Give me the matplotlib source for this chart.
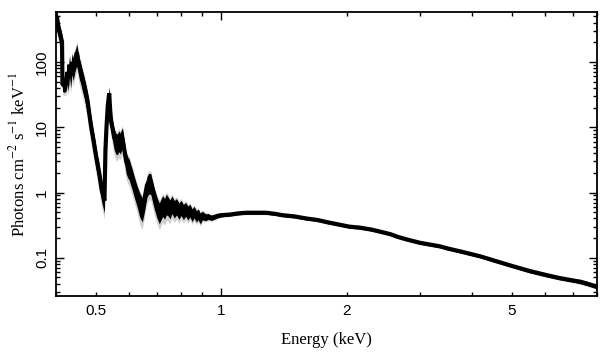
import matplotlib
matplotlib.use("Agg")

import numpy as np
import matplotlib.pyplot as plt
from matplotlib.ticker import LogLocator, FuncFormatter, NullFormatter

plt.rcParams["mathtext.fontset"] = "stix"

# unfolded spectrum (keV, photons cm^-2 s^-1 keV^-1)
energy = [
    0.400, 0.402, 0.404, 0.406, 0.408, 0.410, 0.412, 0.4135, 0.4145, 0.417,
    0.420, 0.423, 0.426, 0.428, 0.431, 0.434, 0.437, 0.440, 0.444, 0.447,
    0.449, 0.452, 0.455, 0.459, 0.463, 0.467, 0.471, 0.476, 0.481, 0.486,
    0.493, 0.500, 0.508, 0.515, 0.523, 0.526, 0.529, 0.533, 0.537, 0.540,
    0.543, 0.548, 0.552, 0.557, 0.562, 0.566, 0.571, 0.577, 0.583, 0.590,
    0.595, 0.600, 0.605, 0.610, 0.617, 0.627, 0.636, 0.645, 0.652, 0.658,
    0.662, 0.668, 0.676, 0.683, 0.690, 0.700, 0.709, 0.715, 0.722,
    0.730, 0.737, 0.745, 0.752, 0.760, 0.770, 0.780, 0.790, 0.800, 0.810,
    0.820, 0.830, 0.840, 0.850, 0.860, 0.870, 0.880, 0.890, 0.900, 0.915,
    0.930, 0.945, 0.960, 0.980, 1.000, 1.050, 1.100, 1.150, 1.200, 1.280,
    1.350, 1.400, 1.500, 1.600, 1.700, 1.800, 1.930, 2.030, 2.150, 2.300,
    2.450, 2.550, 2.650, 2.800, 3.000, 3.350, 3.500, 3.800, 4.200, 4.600,
    5.000, 5.500, 6.000, 6.500, 7.000, 7.300, 7.600, 8.000,
]
flux = [
    420, 500, 380, 330, 280, 250, 225, 205, 46, 44,
    46, 48, 70, 55, 91, 62, 100, 80, 108, 125,
    140, 105, 85, 70, 55, 45, 35, 26, 16, 10,
    6.0, 3.4, 2.0, 1.1, 0.75, 4.5, 10, 22, 33, 18,
    12, 9.0, 7.0, 6.0, 5.8, 6.5, 6.0, 7.2, 4.8, 3.0,
    2.6, 2.4, 2.0, 1.7, 1.3, 0.93, 0.70, 0.59, 0.75, 1.05,
    1.3, 1.45, 1.45, 1.1, 0.84, 0.62, 0.51, 0.58, 0.66,
    0.60, 0.70, 0.64, 0.58, 0.68, 0.58, 0.63, 0.54, 0.60, 0.52,
    0.57, 0.50, 0.54, 0.46, 0.51, 0.44, 0.47, 0.40, 0.45, 0.42,
    0.43, 0.41, 0.42, 0.44, 0.45, 0.46, 0.48, 0.49, 0.49, 0.49,
    0.47, 0.45, 0.43, 0.40, 0.38, 0.35, 0.32, 0.30, 0.29, 0.27,
    0.245, 0.23, 0.21, 0.19, 0.17, 0.150, 0.139, 0.123, 0.105, 0.088,
    0.075, 0.063, 0.055, 0.049, 0.045, 0.043, 0.040, 0.036,
]
# relative half-width of the error band
rel_err = [
    0.30, 0.30, 0.30, 0.30, 0.30, 0.30, 0.30, 0.30, 0.22, 0.22,
    0.25, 0.25, 0.35, 0.35, 0.35, 0.35, 0.35, 0.35, 0.35, 0.35,
    0.35, 0.35, 0.35, 0.35, 0.35, 0.35, 0.35, 0.35, 0.35, 0.35,
    0.35, 0.35, 0.35, 0.35, 0.35, 0.35, 0.30, 0.25, 0.25, 0.25,
    0.30, 0.35, 0.35, 0.35, 0.35, 0.35, 0.35, 0.35, 0.35, 0.35,
    0.35, 0.35, 0.35, 0.35, 0.35, 0.35, 0.40, 0.40, 0.35, 0.35,
    0.35, 0.35, 0.35, 0.35, 0.35, 0.35, 0.35, 0.35, 0.35,
    0.35, 0.35, 0.32, 0.32, 0.30, 0.30, 0.28, 0.28, 0.26, 0.26,
    0.24, 0.24, 0.22, 0.22, 0.20, 0.20, 0.18, 0.18, 0.15, 0.12,
    0.10, 0.09, 0.08, 0.07, 0.06, 0.05, 0.05, 0.05, 0.05, 0.05,
    0.05, 0.05, 0.05, 0.05, 0.05, 0.05, 0.05, 0.05, 0.05, 0.05,
    0.05, 0.05, 0.05, 0.05, 0.05, 0.05, 0.05, 0.05, 0.05, 0.05,
    0.05, 0.06, 0.06, 0.06, 0.06, 0.07, 0.07, 0.07,
]

x_labelled = [0.5, 1, 2, 5]

E = np.asarray(energy)
F = np.asarray(flux)
err = np.asarray(rel_err)

fig = plt.figure(figsize=(6.09, 3.57), dpi=100)
ax = fig.add_axes([0.092, 0.171, 0.888, 0.795])

# grey outer halo of the error bars, then black band and line
ax.fill_between(E, F * (1 - 1.35 * err), F * (1 + 1.35 * err), color="0.82", lw=0)
ax.fill_between(E, F * (1 - err), F * (1 + err), color="black", lw=0)
ax.plot(E, F, color="black", lw=3.0, solid_joinstyle="miter")

ax.set_xscale("log")
ax.set_yscale("log")
ax.set_xlim(0.4, 8.0)
ax.set_ylim(0.026, 580)

# PGPLOT-style ticks: inward on all four sides
ax.xaxis.set_major_locator(LogLocator(base=10, subs=(1.0,)))
ax.xaxis.set_minor_locator(LogLocator(base=10, subs=np.arange(2, 10) * 1.0, numticks=20))
ax.yaxis.set_major_locator(LogLocator(base=10, subs=(1.0,)))
ax.yaxis.set_minor_locator(LogLocator(base=10, subs=np.arange(2, 10) * 1.0, numticks=20))


def _xfmt(v, pos):
    for t in x_labelled:
        if abs(v - t) < 1e-6 * t:
            return f"{t:g}"
    return ""


def _yfmt(v, pos):
    return f"{v:g}"


ax.xaxis.set_major_formatter(FuncFormatter(_xfmt))
ax.xaxis.set_minor_formatter(FuncFormatter(_xfmt))
ax.yaxis.set_major_formatter(FuncFormatter(_yfmt))
ax.yaxis.set_minor_formatter(NullFormatter())

ax.tick_params(which="both", direction="in", top=True, right=True, width=1.0,
               color="black")
ax.tick_params(which="major", length=6)
ax.tick_params(which="minor", length=3)
ax.tick_params(axis="x", which="both", pad=6, labelsize=11)
ax.tick_params(axis="y", which="both", pad=5, labelsize=11, labelrotation=90)
for lab in ax.get_xticklabels(which="both") + ax.get_yticklabels():
    lab.set_family("Liberation Sans")
for lab in ax.get_yticklabels():
    lab.set_va("center")

for s in ax.spines.values():
    s.set_linewidth(1.3)

ax.set_xlabel("Energy (keV)", family="Liberation Serif", fontsize=12, labelpad=10)
ax.set_ylabel(r"Photons cm$^{-2}$ s$^{-1}$ keV$^{-1}$", family="Liberation Serif",
              fontsize=12, labelpad=5)

fig.savefig("out.png", dpi=100)
